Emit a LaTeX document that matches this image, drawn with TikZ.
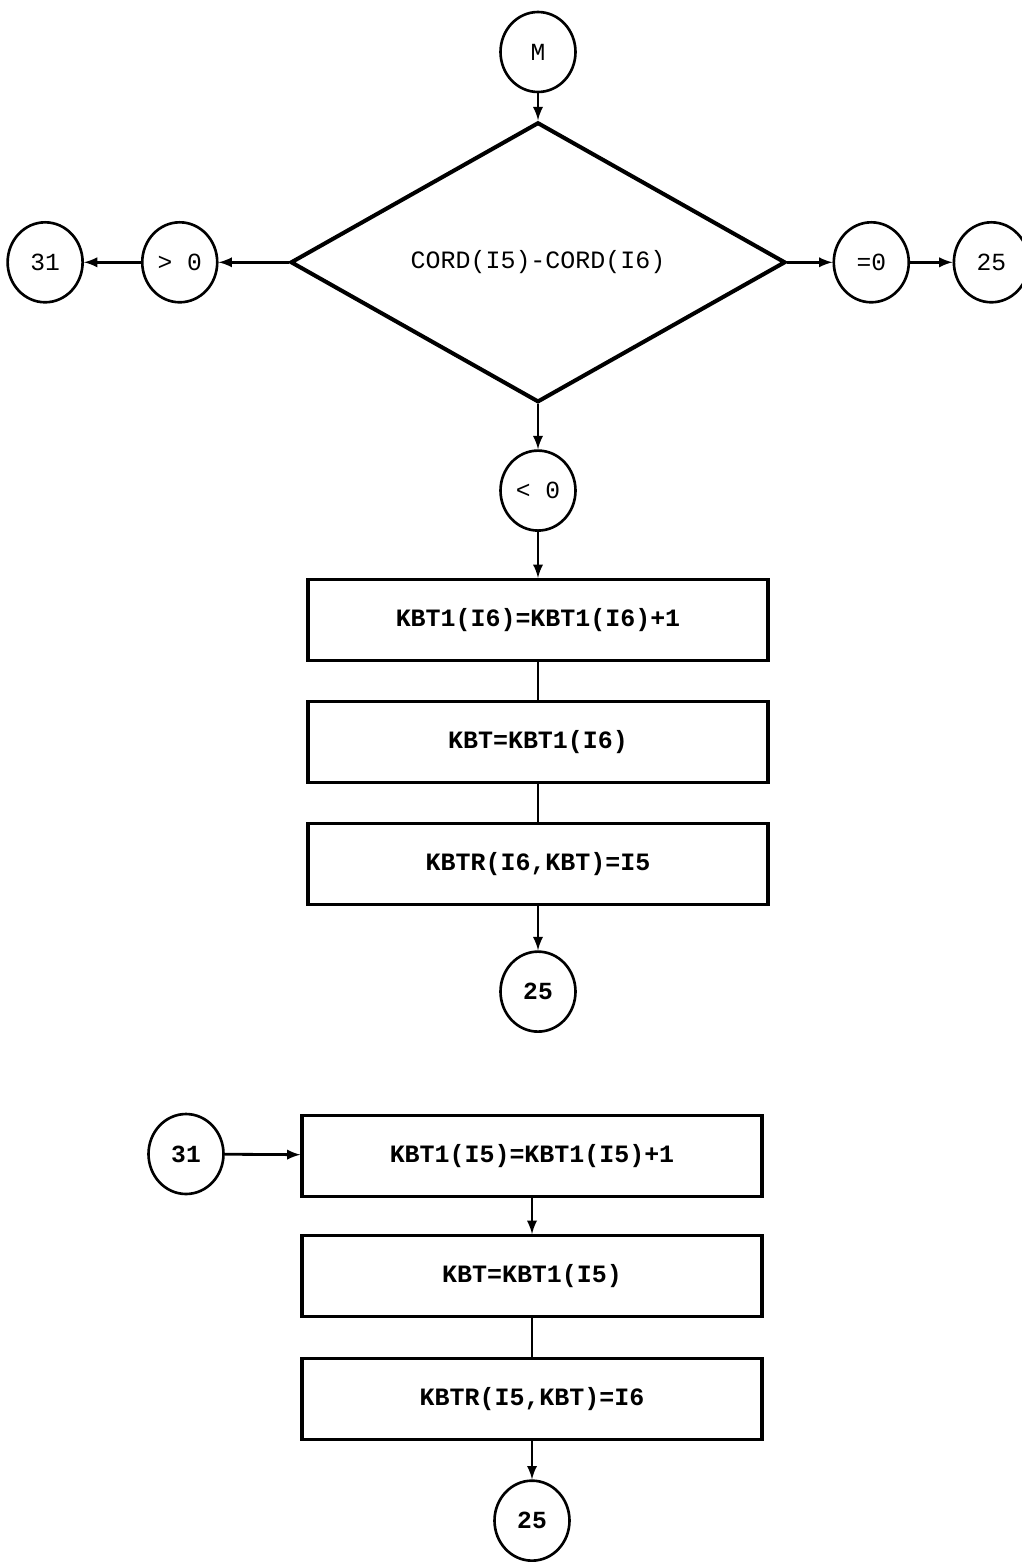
\documentclass[tikz,border=0pt]{standalone}
\usepackage{fontspec}
\setmonofont{Liberation Mono}
\usepackage{tikz}
\usetikzlibrary{shapes.geometric,arrows,positioning}

\tikzset{
  conn/.style={ellipse, draw, line width=1.5pt, minimum width=1.5cm, minimum height=1.6cm,
    inner sep=0pt, font=\fontsize{14}{16}\selectfont\ttfamily},
  cmd/.style={rectangle, draw, line width=1.8pt, minimum width=9.2cm, minimum height=1.62cm,
    font=\fontsize{14.2}{17}\selectfont\ttfamily\bfseries},
  test/.style={diamond, draw, line width=2.3pt, minimum width=9.9cm, minimum height=5.6cm,
    inner sep=0pt, font=\fontsize{14.2}{17}\selectfont\ttfamily},
  flow/.style={line width=1.6pt, -latex},
  link/.style={line width=1.6pt}
}

\begin{document}
\begin{tikzpicture}[x=0.02cm, y=-0.02cm]
 \useasboundingbox (0,0) rectangle (1021,1568);
 % decision part
 \node[conn] (m) at (538,52) {M};
 \node[test, below=0.54cm of m] (cord) {CORD(I5)-CORD(I6)};
 \node[conn, left=1.4cm of cord] (gt) {> 0};
 \node[conn, left=1.14cm of gt] (go31) {31};
 \node[conn, right=0.9cm of cord] (eq) {=0};
 \node[conn, right=0.85cm of eq] (go25) {25};
 \node[conn, below=0.9cm of cord] (lt) {< 0};
 \node[cmd, below=0.92cm of lt] (inc6) {KBT1(I6)=KBT1(I6)+1};
 \node[cmd, below=0.76cm of inc6] (get6) {KBT=KBT1(I6)};
 \node[cmd, below=0.76cm of get6] (set6) {KBTR(I6,KBT)=I5};
 \node[conn, below=0.88cm of set6, font=\fontsize{14}{16}\selectfont\ttfamily\bfseries] (end6) {25};
 \path
  (m) edge[flow] (cord)
  (cord) edge[flow] (gt)
  (gt) edge[flow] (go31)
  (cord) edge[flow] (eq)
  (eq) edge[flow] (go25)
  (cord) edge[flow] (lt)
  (lt) edge[flow] (inc6)
  (inc6) edge[link] (get6)
  (get6) edge[link] (set6)
  (set6) edge[flow] (end6)
;
 % branch 31
 \node[conn, font=\fontsize{14}{16}\selectfont\ttfamily\bfseries] (at31) at (186,1154) {31};
 \node[cmd] (inc5) at (532,1156) {KBT1(I5)=KBT1(I5)+1};
 \node[cmd, below=0.72cm of inc5] (get5) {KBT=KBT1(I5)};
 \node[cmd, below=0.78cm of get5] (set5) {KBTR(I5,KBT)=I6};
 \node[conn, below=0.76cm of set5, font=\fontsize{14}{16}\selectfont\ttfamily\bfseries] (end5) {25};
 \path
  (at31) edge[flow] (inc5)
  (inc5) edge[flow] (get5)
  (get5) edge[link] (set5)
  (set5) edge[flow] (end5)
;
\end{tikzpicture}
\end{document}
